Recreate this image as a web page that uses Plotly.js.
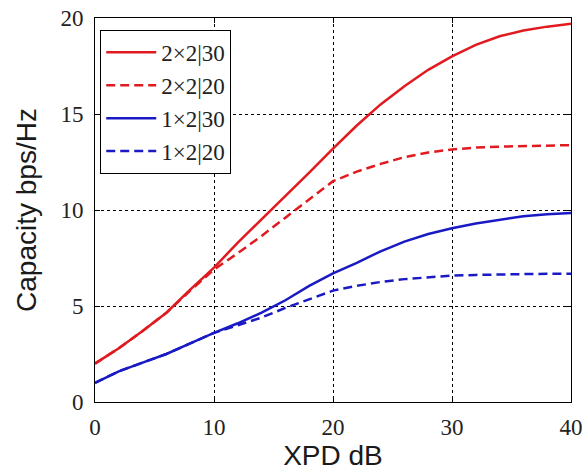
<!DOCTYPE html>
<html>
<head>
<meta charset="utf-8">
<script src="https://cdn.plot.ly/plotly-3.0.1.min.js"></script>
<style>html,body{margin:0;padding:0;background:#fff;}#chart{width:584px;height:475px;}</style>
</head>
<body>
<div id="chart"></div>
<script>
const xpd = [0,2,4,6,8,10,12,14,16,18,20,22,24,26,28,30,32,34,36,38,40];
const names = ["2×2|30","2×2|20","1×2|30","1×2|20"];
const cap2x2_30 = [2.0,2.8,3.7,4.65,5.85,7.0,8.3,9.5,10.7,11.95,13.2,14.4,15.5,16.45,17.3,18.0,18.6,19.05,19.35,19.55,19.7];
const cap2x2_20 = [2.0,2.8,3.7,4.65,5.8,6.9,7.75,8.65,9.6,10.55,11.5,12.0,12.4,12.75,13.0,13.15,13.25,13.3,13.33,13.36,13.38];
const cap1x2_30 = [1.0,1.6,2.05,2.5,3.05,3.6,4.1,4.65,5.3,6.05,6.7,7.25,7.85,8.35,8.75,9.05,9.3,9.5,9.68,9.78,9.85];
const cap1x2_20 = [1.0,1.6,2.05,2.5,3.05,3.6,4.0,4.4,4.9,5.35,5.8,6.05,6.25,6.4,6.5,6.58,6.62,6.65,6.67,6.68,6.68];
const xTicks = [0,10,20,30,40];
const yTicks = [0,5,10,15,20];

const series = [cap2x2_30, cap2x2_20, cap1x2_30, cap1x2_20];
const colors = ["#e01a1f","#e01a1f","#1a1ac4","#1a1ac4"];
const dashes = ["solid","9px,5px","solid","9px,5px"];

const data = series.map((s,i)=>({
  x: xpd, y: s, name: names[i], type: "scatter", mode: "lines",
  line: {color: colors[i], width: 2.5, dash: dashes[i]}
}));

const tickFont = {family: "Liberation Serif, Times New Roman, serif", size: 23, color: "#222"};
const titleFont = {family: "Liberation Sans, Arial, sans-serif", size: 28, color: "#1a1a1a"};

const axisCommon = {
  showline: true, mirror: "ticks", linecolor: "#000", linewidth: 1,
  ticks: "inside", ticklen: 5, tickcolor: "#000",
  showgrid: true, gridcolor: "#000", griddash: "dot", gridwidth: 1,
  zeroline: false, tickfont: tickFont
};

const layout = {
  width: 584, height: 475,
  margin: {l: 95, r: 13, t: 18, b: 73},
  paper_bgcolor: "#fff", plot_bgcolor: "#fff",
  showlegend: true,
  xaxis: Object.assign({}, axisCommon, {
    range: [0,40], tickvals: xTicks, ticktext: xTicks.map(String),
    ticklabelstandoff: 4,
    title: {text: "XPD dB", font: titleFont, standoff: 6}
  }),
  yaxis: Object.assign({}, axisCommon, {
    range: [0,20], tickvals: yTicks, ticktext: yTicks.map(String),
    ticklabelstandoff: 6,
    title: {text: "Capacity bps/Hz", font: titleFont, standoff: 15}
  }),
  legend: {
    x: 0.011, y: 0.969, xanchor: "left", yanchor: "top",
    bgcolor: "#fff", bordercolor: "#000", borderwidth: 1,
    font: {family: "Liberation Serif, Times New Roman, serif", size: 23, color: "#222"},
    itemwidth: 50, tracegroupgap: 0
  }
};

Plotly.newPlot("chart", data, layout, {displayModeBar: false, staticPlot: true});
</script>
</body>
</html>
